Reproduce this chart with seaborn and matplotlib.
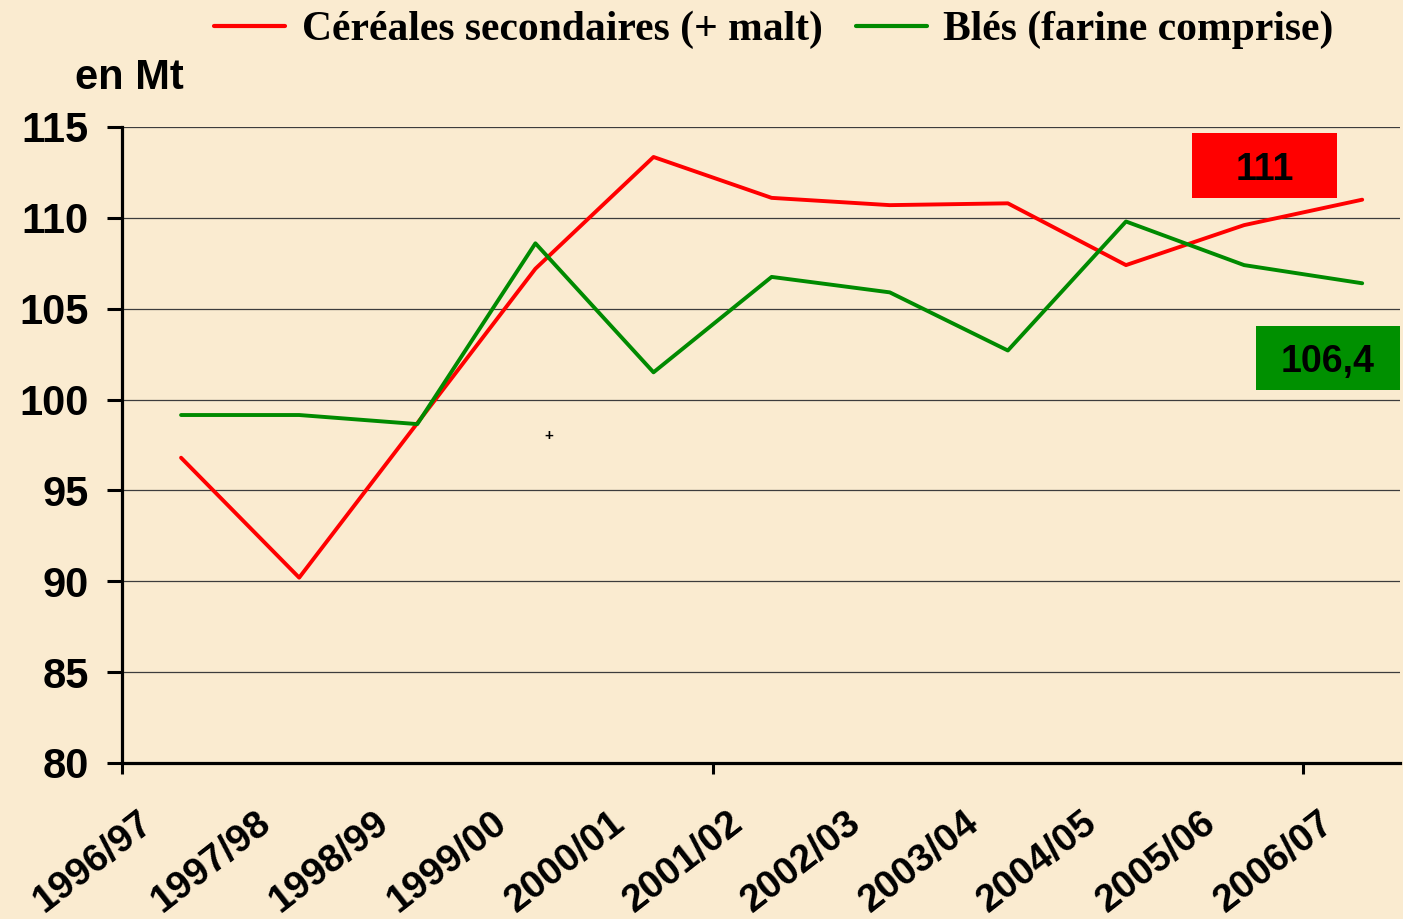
import numpy as np
import pandas as pd
import matplotlib
matplotlib.use("Agg")
import matplotlib.pyplot as plt
import matplotlib.transforms as mtransforms
from matplotlib.patches import Rectangle
from matplotlib.lines import Line2D
import seaborn as sns

# ---- data ----
campagnes = ["1996/97", "1997/98", "1998/99", "1999/00", "2000/01", "2001/02",
             "2002/03", "2003/04", "2004/05", "2005/06", "2006/07"]
cereales_sec = [96.8, 90.2, 98.7, 107.2, 113.35, 111.1, 110.7, 110.8, 107.4, 109.6, 111.0]
bles = [99.15, 99.15, 98.65, 108.6, 101.5, 106.75, 105.9, 102.7, 109.8, 107.4, 106.4]
serie_names = ["Céréales secondaires (+ malt)", "Blés (farine comprise)"]
serie_colors = ["#FF0000", "#008A00"]
box_colors = ["#FF0000", "#009000"]
box_labels = ["111", "106,4"]
y_ticks = [80, 85, 90, 95, 100, 105, 110, 115]

idx = np.arange(len(campagnes))
df = pd.DataFrame({
    "idx": np.concatenate([idx, idx]),
    "valeur": cereales_sec + bles,
    "serie": [serie_names[0]] * len(idx) + [serie_names[1]] * len(idx),
})

sns.set_theme(style="white")
plt.rcParams["font.family"] = ["Liberation Sans", "DejaVu Sans"]
plt.rcParams.update({"text.color": "black", "axes.labelcolor": "black",
                     "xtick.color": "black", "ytick.color": "black"})

bg = "#FAEBD0"
fig = plt.figure(figsize=(14.03, 9.19), dpi=100, facecolor=bg)
ax = fig.add_axes([122 / 1403, 1 - 763 / 919, (1400 - 122) / 1403, (763 - 127) / 919])
ax.set_facecolor(bg)

sns.lineplot(data=df, x="idx", y="valeur", hue="serie", palette=serie_colors,
             hue_order=serie_names, linewidth=2.8, ax=ax, legend=False, zorder=3)

ax.set_xlim(-0.5, 10.32)
ax.set_ylim(80, 115)
ax.set_xlabel("")
ax.set_ylabel("")

# grid
for y in y_ticks[1:]:
    ax.axhline(y, color="#3c3c3c", lw=0.9, zorder=1)

# spines
for s in ["top", "right"]:
    ax.spines[s].set_visible(False)
for s in ["left", "bottom"]:
    ax.spines[s].set_color("black")
    ax.spines[s].set_linewidth(2.3)

# y ticks
ax.set_yticks(y_ticks)
ax.set_yticklabels([str(v) for v in y_ticks], fontsize=30, fontweight="bold", color="black")
ax.tick_params(axis="y", direction="out", length=11, width=2.2, pad=13, color="black", left=True)

# x ticks: major every 5 categories (between categories), minor labels
ax.set_xticks([-0.5, 4.5, 9.5])
ax.set_xticklabels([])
ax.tick_params(axis="x", which="major", direction="out", length=8, width=2.2, color="black", bottom=True)
ax.set_xticks(idx, minor=True)
ax.set_xticklabels(campagnes, minor=True, fontsize=28, fontweight="bold", color="black",
                   rotation=38, ha="right", va="center", rotation_mode="anchor")
ax.tick_params(axis="x", which="minor", length=0, pad=40)
offset = mtransforms.ScaledTranslation(-33 / 100, 0, fig.dpi_scale_trans)
for lab in ax.get_xticklabels(minor=True):
    lab.set_transform(lab.get_transform() + offset)

# value boxes
boxes = [((8.56, 111.09), 9.79 - 8.56, 114.67 - 111.09),
         ((9.10, 100.53), 10.32 - 9.10, 104.05 - 100.53)]
for (xy, w, h), c, t in zip(boxes, box_colors, box_labels):
    ax.add_patch(Rectangle(xy, w, h, facecolor=c, edgecolor="none", clip_on=False, zorder=4))
    ax.text(xy[0] + w / 2, xy[1] + h / 2, t, ha="center", va="center_baseline",
            fontsize=27, fontweight="bold", color="black", zorder=5, clip_on=False)

# small plus mark
ax.text(3.11, 98.0, "+", ha="center", va="center", fontsize=11, fontweight="bold",
        color="black", zorder=5)

# unit label
fig.text(75 / 1403, 1 - 89 / 919, "en Mt", fontsize=30, fontweight="bold",
         ha="left", va="baseline", color="black")

# legend
handles = [Line2D([0], [0], color=c, lw=3) for c in serie_colors]
leg = fig.legend(handles, serie_names, loc="center", bbox_to_anchor=(774 / 1403, 1 - 30 / 919),
                 ncol=2, frameon=False, handlelength=1.7, handletextpad=0.4, columnspacing=0.8,
                 prop={"family": "Liberation Serif", "weight": "bold", "size": 30})
for t in leg.get_texts():
    t.set_color("black")

fig.savefig("out.png", dpi=100, facecolor=bg)
